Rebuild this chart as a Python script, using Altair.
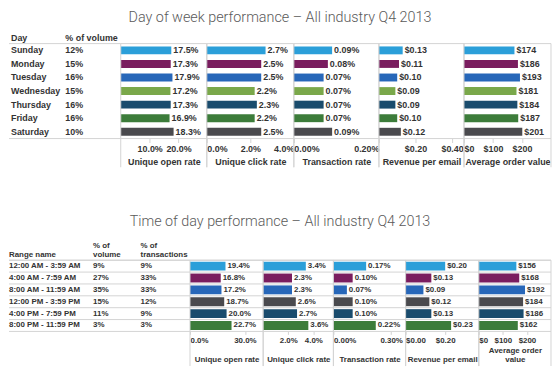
import altair as alt
import pandas as pd

FONT = "Liberation Sans"
LINE = "#d3d3d3"
TXT = "#333333"

# ---------------- data: day of week ----------------
days = ["Sunday", "Monday", "Tuesday", "Wednesday", "Thursday", "Friday", "Saturday"]
day_volume = ["12%", "15%", "16%", "15%", "16%", "16%", "10%"]
day_open = [17.5, 17.3, 17.9, 17.2, 17.3, 16.9, 18.3]
day_click = [2.7, 2.5, 2.5, 2.2, 2.3, 2.2, 2.5]
day_trans = [0.09, 0.08, 0.07, 0.07, 0.07, 0.07, 0.09]
day_rev = [0.13, 0.11, 0.10, 0.09, 0.09, 0.10, 0.12]
day_aov = [174, 186, 193, 181, 184, 187, 201]
day_colors = ["#2b9fd9", "#7a1d5f", "#2767b9", "#7aa84a", "#1a4c6d", "#3c7c3a", "#4a4a4e"]

# ---------------- data: time of day ----------------
ranges = ["12:00 AM - 3:59 AM", "4:00 AM - 7:59 AM", "8:00 AM - 11:59 AM",
          "12:00 PM - 3:59 PM", "4:00 PM - 7:59 PM", "8:00 PM - 11:59 PM"]
tod_volume = ["9%", "27%", "35%", "15%", "11%", "3%"]
tod_transactions = ["9%", "33%", "33%", "12%", "9%", "3%"]
tod_open = [19.4, 16.8, 17.2, 18.7, 20.0, 22.7]
tod_click = [3.4, 2.3, 2.3, 2.6, 2.7, 3.6]
tod_trans = [0.17, 0.10, 0.07, 0.10, 0.10, 0.22]
tod_rev = [0.20, 0.13, 0.09, 0.12, 0.13, 0.23]
tod_aov = [156, 168, 192, 184, 186, 162]
tod_colors = ["#2b9fd9", "#7a1d5f", "#2767b9", "#4a4a4e", "#1a4c6d", "#3c7c3a"]


def pct1(v):
    return f"{v:.1f}%"


def pct2(v):
    return f"{v:.2f}%"


def usd2(v):
    return f"${v:.2f}"


def usd0(v):
    return f"${v}"


df1 = pd.DataFrame({
    "cat": days, "vol": day_volume, "color": day_colors,
    "open": day_open, "open_l": [pct1(v) for v in day_open],
    "click": day_click, "click_l": [pct1(v) for v in day_click],
    "trans": day_trans, "trans_l": [pct2(v) for v in day_trans],
    "rev": day_rev, "rev_l": [usd2(v) for v in day_rev],
    "aov": day_aov, "aov_l": [usd0(v) for v in day_aov],
})
df2 = pd.DataFrame({
    "cat": ranges, "vol": tod_volume, "tr": tod_transactions, "color": tod_colors,
    "open": tod_open, "open_l": [pct1(v) for v in tod_open],
    "click": tod_click, "click_l": [pct1(v) for v in tod_click],
    "trans": tod_trans, "trans_l": [pct2(v) for v in tod_trans],
    "rev": tod_rev, "rev_l": [usd2(v) for v in tod_rev],
    "aov": tod_aov, "aov_l": [usd0(v) for v in tod_aov],
})
one = pd.DataFrame({"k": [0]})


def ydef(order, band=None):
    kw = {}
    if band is not None:
        kw["bandPosition"] = band
    return alt.Y("cat:N", sort=order, axis=None,
                 scale=alt.Scale(paddingInner=0, paddingOuter=0), **kw)


def frame(W, H, ext, verticals, df, order, rows):
    out = [
        alt.Chart(one).mark_rule(color=LINE, strokeWidth=1).encode(
            x=alt.value(0), x2=alt.value(W), y=alt.value(0)),
        alt.Chart(one).mark_rule(color=LINE, strokeWidth=1).encode(
            x=alt.value(0), x2=alt.value(W), y=alt.value(H)),
    ]
    if rows:
        out.append(alt.Chart(df).mark_rule(color=LINE, strokeWidth=1).encode(
            y=ydef(order, 0), x=alt.value(0), x2=alt.value(W)))
    if verticals:
        for xv in (0, W):
            out.append(alt.Chart(one).mark_rule(color=LINE, strokeWidth=1).encode(
                x=alt.value(xv), y=alt.value(0), y2=alt.value(H + ext)))
    return out


def bar_panel(df, order, field, domain, values, fmt, title, W, H, fs, bar,
              tick, lpad, tpad, ext, rows):
    x = alt.X(f"{field}:Q",
              scale=alt.Scale(domain=domain, nice=False, zero=False),
              axis=alt.Axis(values=values, labelExpr=fmt, title=title, grid=False,
                            domain=False, tickColor=LINE, tickSize=tick,
                            labelPadding=lpad, titlePadding=tpad, labelFont=FONT,
                            labelFontSize=fs, labelFontWeight="bold", labelColor=TXT,
                            titleFont=FONT, titleFontSize=fs, titleFontWeight="bold",
                            titleColor=TXT, titleLineHeight=fs + 1,
                            labelFlush=True, labelOverlap=False))
    y = ydef(order)
    bars = alt.Chart(df).mark_bar(size=bar).encode(
        x=x, y=y, color=alt.Color("color:N", scale=None))
    txt = alt.Chart(df).mark_text(align="left", baseline="middle", dx=2, font=FONT,
                                  fontSize=fs, fontWeight="bold", color=TXT).encode(
        x=x, y=y, text=f"{field}_l:N")
    layers = [bars, txt] + frame(W, H, ext, True, df, order, rows)
    return alt.layer(*layers).properties(width=W, height=H)


def text_panel(df, order, cols, headers, W, H, fs, rows):
    y = ydef(order)
    layers = []
    for field, xp in cols:
        layers.append(alt.Chart(df).mark_text(
            align="left", baseline="middle", font=FONT, fontSize=fs,
            fontWeight="bold", color=TXT).encode(
            y=y, x=alt.value(xp), text=f"{field}:N"))
    for t, xp, yp in headers:
        layers.append(alt.Chart(one).mark_text(
            text=t, align="left", baseline="alphabetic", font=FONT, fontSize=fs,
            fontWeight="bold", color=TXT).encode(x=alt.value(xp), y=alt.value(yp)))
    layers += frame(W, H, 0, False, df, order, rows)
    return alt.layer(*layers).properties(width=W, height=H)


def title(t, offset):
    return alt.TitleParams(text=t, font="Roboto", fontWeight=300, fontSize=14.5,
                           color="#5a5a5a", anchor="middle", offset=offset)


# ---------------- section 1 ----------------
H1 = 96
fs1 = 9
s1 = [
    text_panel(df1, days, [("cat", 2), ("vol", 57)],
               [("Day", 2, -2.5), ("% of volume", 57, -2.5)], 113, H1, fs1, False),
    bar_panel(df1, days, "open", [0, 29.8], [10, 20],
              "format(datum.value, '.1f') + '%'", "Unique open rate",
              87, H1, fs1, 8, 4, 2, 4, 29, False),
    bar_panel(df1, days, "click", [0, 4.0], [0, 2, 4],
              "format(datum.value, '.1f') + '%'", "Unique click rate",
              88, H1, fs1, 8, 4, 2, 4, 29, False),
    bar_panel(df1, days, "trans", [0, 0.2], [0, 0.2],
              "format(datum.value, '.2f') + '%'", "Transaction rate",
              86, H1, fs1, 8, 4, 2, 4, 29, False),
    bar_panel(df1, days, "rev", [0, 0.465], [0.2, 0.4],
              "'$' + format(datum.value, '.2f')", "Revenue per email",
              86, H1, fs1, 8, 4, 2, 4, 29, False),
    bar_panel(df1, days, "aov", [0, 300], [0, 100, 200],
              "'$' + format(datum.value, 'd')", "Average order value",
              88, H1, fs1, 8, 4, 2, 4, 29, False),
]
sec1 = alt.hconcat(*s1, spacing=0, bounds="flush").properties(
    title=title("Day of week performance \u2013 All industry Q4 2013", 9))

# ---------------- section 2 ----------------
H2 = 72
fs2 = 8
s2 = [
    text_panel(df2, ranges, [("cat", 0), ("vol", 85), ("tr", 133)],
               [("Range name", 0, -3.5), ("% of", 85, -12.8), ("volume", 85, -3.5),
                ("% of", 133, -12.8), ("transactions", 133, -3.5)],
               183, H2, fs2, True),
    bar_panel(df2, ranges, "open", [0, 40], [0, 30],
              "format(datum.value, '.1f') + '%'", "Unique open rate",
              74, H2, fs2, 9, 3, 2, 11, 35, True),
    bar_panel(df2, ranges, "click", [0, 5.6], [2, 4],
              "format(datum.value, '.1f') + '%'", "Unique click rate",
              71, H2, fs2, 9, 3, 2, 11, 35, True),
    bar_panel(df2, ranges, "trans", [0, 0.375], [0, 0.3],
              "format(datum.value, '.2f') + '%'", "Transaction rate",
              73, H2, fs2, 9, 3, 2, 11, 35, True),
    bar_panel(df2, ranges, "rev", [0, 0.37], [0, 0.2],
              "'$' + format(datum.value, '.2f')", "Revenue per email",
              74, H2, fs2, 9, 3, 2, 11, 35, True),
    bar_panel(df2, ranges, "aov", [0, 300], [0, 100, 200],
              "'$' + format(datum.value, 'd')", ["Average order", "value"],
              73, H2, fs2, 9, 3, 2, 2, 35, True),
]
sec2 = alt.hconcat(*s2, spacing=0, bounds="flush").properties(
    title=title("Time of day performance \u2013 All industry Q4 2013", 12))

chart = alt.vconcat(sec1, sec2, spacing=219, bounds="flush").properties(
    padding=0
).configure_view(stroke=None)

chart.save("out.html", embed_options={"renderer": "svg", "actions": False})
